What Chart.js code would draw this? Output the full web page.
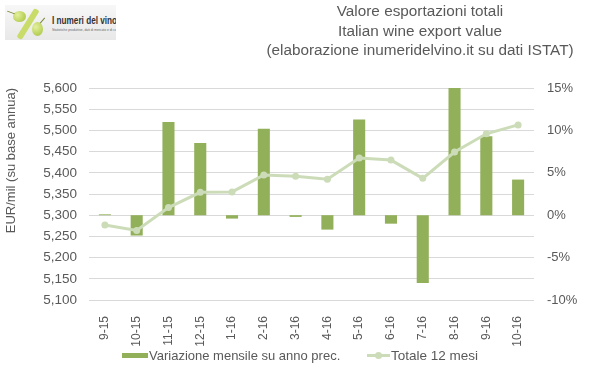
<!DOCTYPE html>
<html>
<head>
<meta charset="utf-8">
<script src="https://cdn.jsdelivr.net/npm/chart.js@4/dist/chart.umd.min.js"></script>
<style>
  html, body { margin:0; padding:0; background:#fff; }
  #wrap { position:relative; width:599px; height:378px; overflow:hidden; font-family:"Liberation Sans", Arial, sans-serif; color:#595959; }
  #c { position:absolute; left:0; top:0; }
  #title { position:absolute; left:170px; top:1px; width:500px; text-align:center; font-size:15.3px; line-height:19.5px; white-space:nowrap; color:#595959; }
  #logo { position:absolute; left:5px; top:5px; width:111px; height:35px; background:linear-gradient(180deg,#f7f7f7 0%,#e8e8e8 100%); overflow:hidden; }
  .grape { position:absolute; border-radius:50%; background:radial-gradient(circle at 35% 35%, #e4efa0 0%, #bcd45e 60%, #a6c24a 100%); }
  .slash { position:absolute; left:20px; top:2px; width:6px; height:34px; background:#c9dc6a; transform:rotate(32deg); border-radius:2px; }
  .stem { position:absolute; height:1px; background:#7a8a3a; }
  #logoTxt { position:absolute; left:47px; top:9px; font-family:"Liberation Sans Narrow","Liberation Sans",sans-serif; font-weight:bold; font-size:10.5px; color:#333; white-space:nowrap; transform:scaleX(0.78); transform-origin:0 0; }
  #logoSub { position:absolute; left:47px; top:23px; font-size:6px; color:#666; transform:scale(0.55); transform-origin:0 0; white-space:nowrap; }
  .leg { position:absolute; font-size:13px; white-space:nowrap; line-height:15px; color:#595959; }
</style>
</head>
<body>
<div id="wrap">
  <canvas id="c" width="599" height="378"></canvas>
  <div id="logo">
    <div class="slash"></div>
    <div class="grape" style="left:8px;top:6px;width:13px;height:11px;"></div>
    <div class="grape" style="left:27px;top:17px;width:11px;height:14px;"></div>
    <div class="stem" style="left:2px;top:7px;width:8px;transform:rotate(20deg);"></div>
    <div class="stem" style="left:34px;top:15px;width:7px;transform:rotate(-50deg);"></div>
    <div id="logoTxt">I numeri del vino</div>
    <div id="logoSub">Statistiche produttive, dati di mercato e di consumo</div>
  </div>
  <div id="title">Valore esportazioni totali<br>Italian wine export value<br>(elaborazione inumeridelvino.it su dati ISTAT)</div>
  <div id="legend"></div>
</div>
<script>
const categories = ['9-15','10-15','11-15','12-15','1-16','2-16','3-16','4-16','5-16','6-16','7-16','8-16','9-16','10-16'];
const monthlyChangePct = [0.1, -2.4, 11.0, 8.5, -0.4, 10.2, -0.2, -1.7, 11.3, -1.0, -8.0, 15.0, 9.3, 4.2];
const total12Months = [5277, 5264, 5318, 5354, 5355, 5395, 5392, 5385, 5435, 5430, 5387, 5449, 5492, 5513];
const seriesNames = ['Variazione mensile su anno prec.', 'Totale 12 mesi'];
const leftAxisTitle = 'EUR/mil (su base annua)';

const barColor = '#92B05A';
const lineColor = '#CCDCB8';
const textColor = '#595959';

const chart = new Chart(document.getElementById('c'), {
  data: {
    labels: categories,
    datasets: [
      {
        type: 'line', label: seriesNames[1], data: total12Months, yAxisID: 'y',
        borderColor: lineColor, backgroundColor: lineColor, borderWidth: 3,
        pointRadius: 3.5, pointBackgroundColor: lineColor, pointBorderWidth: 0,
        tension: 0, order: 0
      },
      {
        type: 'bar', label: seriesNames[0], data: monthlyChangePct, yAxisID: 'y1',
        backgroundColor: barColor, borderWidth: 0,
        categoryPercentage: 1.0, barPercentage: 0.38, order: 1
      }
    ]
  },
  options: {
    responsive: false,
    animation: false,
    devicePixelRatio: 1,
    layout: { padding: { top: 88, left: 0, right: 0, bottom: 0 } },
    plugins: { legend: { display: false }, tooltip: { enabled: false } },
    scales: {
      x: {
        grid: { display: false }, border: { display: false },
        ticks: { color: textColor, font: { family: 'Liberation Sans', size: 12 }, minRotation: 90, maxRotation: 90, padding: 8, autoSkip: false },
        afterFit: s => { s.height = 78; }
      },
      y: {
        position: 'left', min: 5100, max: 5600,
        grid: { color: '#D9D9D9', lineWidth: 1, drawTicks: false }, border: { display: false },
        ticks: { stepSize: 50, color: textColor, padding: 12, font: { family: 'Liberation Sans', size: 13.5 },
                 callback: v => v.toLocaleString('en-US') },
        title: { display: true, text: leftAxisTitle, align: 'end', color: textColor, font: { family: 'Liberation Sans', size: 13 }, padding: { top: 4, bottom: 0 } },
        afterFit: s => { s.width = 89; }
      },
      y1: {
        position: 'right', min: -10, max: 15,
        grid: { display: false, drawTicks: false }, border: { display: false },
        ticks: { stepSize: 5, color: textColor, padding: 13, font: { family: 'Liberation Sans', size: 13 },
                 callback: v => v + '%' },
        afterFit: s => { s.width = 65; }
      }
    }
  }
});

// HTML legend built from the datasets
const legend = document.getElementById('legend');
legend.innerHTML =
  '<div style="position:absolute;left:122px;top:353px;width:26px;height:5px;background:' + barColor + '"></div>' +
  '<div class="leg" style="left:149px;top:348px;">' + seriesNames[0] + '</div>' +
  '<div style="position:absolute;left:367px;top:354px;width:23px;height:3px;background:' + lineColor + '"></div>' +
  '<div style="position:absolute;left:375px;top:352px;width:7px;height:7px;border-radius:50%;background:' + lineColor + '"></div>' +
  '<div class="leg" style="left:391px;top:348px;font-size:13.5px;">' + seriesNames[1] + '</div>';
</script>
</body>
</html>
